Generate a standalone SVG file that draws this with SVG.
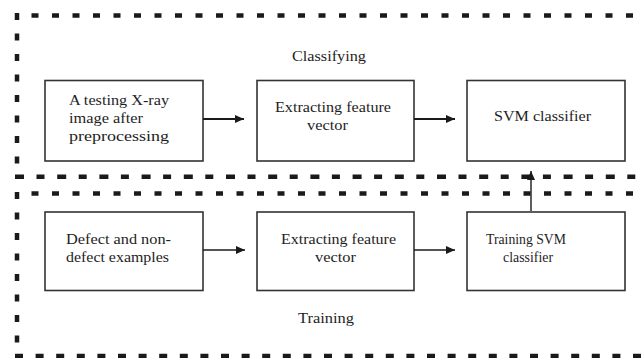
<svg xmlns="http://www.w3.org/2000/svg" width="644" height="358" viewBox="0 0 644 358">
<style>
.frame{fill:none;stroke:#1a1a1a;stroke-width:4.5;stroke-dasharray:7 13.5}
.box{fill:#fff;stroke:#333;stroke-width:1.6}
.t{font-family:"Liberation Serif","Times New Roman",serif;font-size:15px;fill:#1e1e1e}
.c1{stroke:#1a1a1a;stroke-width:2.2;fill:none}
.c2{stroke:#1a1a1a;stroke-width:1.4;fill:none}
</style>
<defs>
<marker id="ah" markerUnits="userSpaceOnUse" markerWidth="10" markerHeight="9" refX="9" refY="4.5" orient="auto">
<path d="M0,0.5 L9,4.5 L0,8.5 z" fill="#1a1a1a"/>
</marker>
</defs>
<rect width="644" height="358" fill="#fff"/>
<g id="frames">
<path class="frame" d="M17,13 V177"/>
<path class="frame" d="M31.5,15.5 H650"/>
<path class="frame" d="M15,176.7 H650" style="stroke-dasharray:9 12.5 8 12.7"/>
<path class="frame" d="M31.5,193.5 H650"/>
<path class="frame" d="M17,192 V352"/>
<path class="frame" d="M15,356 H650" style="stroke-dasharray:8 12.6"/>
</g>
<text class="t" x="292" y="60.5" textLength="74" lengthAdjust="spacingAndGlyphs">Classifying</text>
<text class="t" x="298" y="323" textLength="56" lengthAdjust="spacingAndGlyphs">Training</text>
<g id="n1">
<rect class="box" x="45" y="80.5" width="158" height="80.5"/>
<text class="t" x="69" y="105" textLength="100" lengthAdjust="spacingAndGlyphs">A testing X-ray</text>
<text class="t" x="69" y="123" textLength="74" lengthAdjust="spacingAndGlyphs">image after</text>
<text class="t" x="69" y="141" textLength="100" lengthAdjust="spacingAndGlyphs">preprocessing</text>
</g>
<g id="n2">
<rect class="box" x="257" y="80.5" width="157" height="80.5"/>
<text class="t" x="275" y="112" textLength="116" lengthAdjust="spacingAndGlyphs">Extracting feature</text>
<text class="t" x="307" y="130" textLength="41" lengthAdjust="spacingAndGlyphs">vector</text>
</g>
<g id="n3">
<rect class="box" x="467" y="80.5" width="158" height="80.5"/>
<text class="t" x="494" y="121" textLength="97" lengthAdjust="spacingAndGlyphs">SVM classifier</text>
</g>
<g id="n4">
<rect class="box" x="45" y="212" width="158" height="78.5"/>
<text class="t" x="66" y="244" textLength="105" lengthAdjust="spacingAndGlyphs">Defect and non-</text>
<text class="t" x="66" y="262" textLength="103" lengthAdjust="spacingAndGlyphs">defect examples</text>
</g>
<g id="n5">
<rect class="box" x="257" y="212" width="157" height="78.5"/>
<text class="t" x="281" y="244" textLength="115" lengthAdjust="spacingAndGlyphs">Extracting feature</text>
<text class="t" x="315" y="262" textLength="41" lengthAdjust="spacingAndGlyphs">vector</text>
</g>
<g id="n6">
<rect class="box" x="467" y="212" width="158" height="78.5"/>
<text class="t" x="486" y="244" textLength="80" lengthAdjust="spacingAndGlyphs">Training SVM</text>
<text class="t" x="503" y="262" textLength="50" lengthAdjust="spacingAndGlyphs">classifier</text>
</g>
<g id="connectors">
<line class="c1" x1="203" y1="119" x2="244" y2="119" marker-end="url(#ah)"/>
<line class="c1" x1="414" y1="119" x2="455" y2="119" marker-end="url(#ah)"/>
<line class="c2" x1="203" y1="250" x2="245" y2="250" marker-end="url(#ah)"/>
<line class="c2" x1="414" y1="250" x2="455" y2="250" marker-end="url(#ah)"/>
<line class="c2" x1="531" y1="211" x2="531" y2="171" marker-end="url(#ah)"/>
</g>
</svg>
